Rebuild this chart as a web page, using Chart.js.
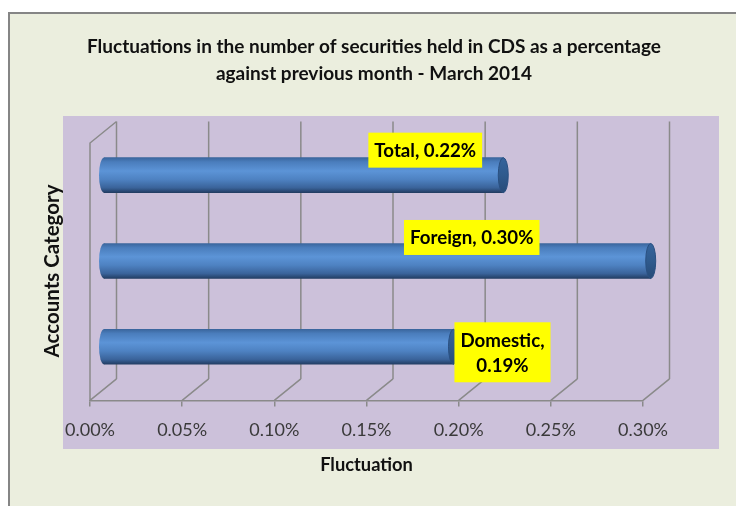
<!DOCTYPE html>
<html><head><meta charset="utf-8">
<script src="https://cdn.jsdelivr.net/npm/chart.js@4.4.1/dist/chart.umd.min.js"></script>
<style>html,body{margin:0;padding:0;background:#fff;}canvas{display:block;}</style>
</head><body>
<canvas id="c" width="736" height="506"></canvas>
<script>
// ---- data ----
const categories = ['Total', 'Foreign', 'Domestic'];
const fluctuation = [0.217, 0.297, 0.19];          // percent
const xTicks = [0, 0.05, 0.10, 0.15, 0.20, 0.25, 0.30];
const titleLines = ['Fluctuations in the number of securities held in CDS as a percentage',
                    'against previous month - March 2014'];
const xTitle = 'Fluctuation';
const yTitle = 'Accounts Category';

// ---- styling / layout ----
const FONT = 'Lato, "Open Sans", sans-serif';
const DEPTH = {x: 26.5, y: -21.5};
const BAR_H = 35;
const CAP_RX = 5;
const labelShift = [[-78, -25], [-179, -23.5], [49, 5.5]];
const labelWrap = [false, false, true];

function barGradient(ctx, yc, h) {
  if (!isFinite(yc)) return '#4F81BD';
  const g = ctx.createLinearGradient(0, yc - h / 2, 0, yc + h / 2);
  g.addColorStop(0, '#3A669D');
  g.addColorStop(0.12, '#4A7DBC');
  g.addColorStop(0.38, '#5C94D7');
  g.addColorStop(0.62, '#4E82C2');
  g.addColorStop(0.86, '#3A639A');
  g.addColorStop(1, '#223D63');
  return g;
}

const framePlugin = {
  id: 'frame',
  beforeDraw(chart) {
    const ctx = chart.ctx, W = chart.width, H = chart.height;
    const a = chart.chartArea;
    ctx.save();
    ctx.fillStyle = '#ffffff';
    ctx.fillRect(0, 0, W, H);
    ctx.fillStyle = '#EBEEDE';
    ctx.fillRect(9, 13, W - 9, H - 13);
    ctx.strokeStyle = '#858585';
    ctx.lineWidth = 2;
    ctx.beginPath(); ctx.moveTo(9, H); ctx.lineTo(9, 13); ctx.lineTo(W, 13); ctx.stroke();
    ctx.fillStyle = '#CCC1DA';
    ctx.fillRect(63, 116, 656, 333);
    ctx.restore();
  },
  beforeDatasetsDraw(chart) {
    const ctx = chart.ctx, a = chart.chartArea, xs = chart.scales.x;
    ctx.save();
    ctx.strokeStyle = '#8A8A8A';
    ctx.lineWidth = 1.5;
    ctx.beginPath();
    xTicks.forEach(v => {
      const fx = xs.getPixelForValue(v), bx = fx + DEPTH.x;
      ctx.moveTo(bx, a.bottom + DEPTH.y); ctx.lineTo(bx, a.top + DEPTH.y);
      ctx.moveTo(fx, a.bottom); ctx.lineTo(bx, a.bottom + DEPTH.y);
    });
    ctx.moveTo(a.left, a.bottom); ctx.lineTo(a.left, a.top);
    ctx.lineTo(a.left + DEPTH.x, a.top + DEPTH.y);
    ctx.stroke();
    // texts
    ctx.fillStyle = '#111111';
    ctx.textAlign = 'center';
    ctx.textBaseline = 'middle';
    ctx.font = 'bold 19px ' + FONT;
    ctx.fillText(titleLines[0], 374, 47);
    ctx.fillText(titleLines[1], 374, 74);
    ctx.save();
    ctx.translate(52.5, 271);
    ctx.rotate(-Math.PI / 2);
    ctx.font = 'bold 20.5px ' + FONT;
    ctx.fillText(yTitle, 0, 0);
    ctx.restore();
    ctx.restore();
    // shift the bars to mid depth
    ctx.save();
    ctx.translate(DEPTH.x / 2, DEPTH.y / 2);
  },
  afterDatasetsDraw(chart) {
    const ctx = chart.ctx;
    const meta = chart.getDatasetMeta(0);
    meta.data.forEach(el => {
      const p = el.getProps(['x', 'y', 'base', 'height'], true);
      const ry = p.height / 2;
      ctx.fillStyle = barGradient(ctx, p.y, p.height);
      ctx.beginPath(); ctx.ellipse(p.base, p.y, CAP_RX, ry, 0, 0, Math.PI * 2); ctx.fill();
      const g = ctx.createLinearGradient(0, p.y - ry, 0, p.y + ry);
      g.addColorStop(0, '#35649C'); g.addColorStop(0.5, '#2F5A8D'); g.addColorStop(1, '#274B78');
      ctx.fillStyle = g;
      ctx.strokeStyle = '#2A5081';
      ctx.lineWidth = 1;
      ctx.beginPath(); ctx.ellipse(p.x, p.y, CAP_RX, ry, 0, 0, Math.PI * 2); ctx.fill(); ctx.stroke();
    });
    ctx.restore();
    // data labels
    ctx.save();
    ctx.font = 'bold 18.7px ' + FONT;
    ctx.textAlign = 'center';
    ctx.textBaseline = 'middle';
    meta.data.forEach((el, i) => {
      const p = el.getProps(['x', 'y'], true);
      const val = fluctuation[i].toFixed(2) + '%';
      const lines = labelWrap[i] ? [categories[i] + ',', val] : [categories[i] + ', ' + val];
      const cx = p.x + DEPTH.x / 2 + labelShift[i][0];
      const cy = p.y + DEPTH.y / 2 + labelShift[i][1];
      const tw = Math.max(...lines.map(l => ctx.measureText(l).width));
      const lh = 25;
      const bw = tw + 12, bh = lines.length * lh + 10;
      ctx.fillStyle = '#FFFF00';
      ctx.fillRect(cx - bw / 2, cy - bh / 2, bw, bh);
      ctx.fillStyle = '#000000';
      lines.forEach((l, k) => ctx.fillText(l, cx, cy - (lines.length - 1) * lh / 2 + k * lh + 1));
    });
    ctx.restore();
  }
};

new Chart(document.getElementById('c'), {
  type: 'bar',
  data: {
    labels: categories,
    datasets: [{
      data: fluctuation,
      barThickness: BAR_H,
      borderWidth: 0,
      backgroundColor: (c) => {
        const ch = c.chart, ys = ch.scales.y;
        if (!ys || c.type !== 'data') return '#4F81BD';
        return barGradient(ch.ctx, ys.getPixelForValue(c.dataIndex), BAR_H);
      }
    }]
  },
  options: {
    indexAxis: 'y',
    responsive: false,
    devicePixelRatio: 1,
    animation: false,
    layout: {padding: {left: 90, right: 93, top: 143, bottom: 26}},
    plugins: {legend: {display: false}, title: {display: false}, tooltip: {enabled: false}},
    scales: {
      y: {display: false, offset: true},
      x: {
        min: 0, max: 0.3,
        afterBuildTicks: (s) => { s.ticks = xTicks.map(v => ({value: v})); },
        border: {display: true, color: '#8A8A8A', width: 1.5},
        grid: {display: true, drawOnChartArea: false, drawTicks: true, tickLength: 6, color: '#8A8A8A', lineWidth: 1.5},
        ticks: {
          autoSkip: false, maxRotation: 0, padding: 13,
          color: '#3A3A3A', font: {family: FONT, size: 18},
          callback: (v) => Number(v).toFixed(2) + '%'
        },
        title: {display: true, text: xTitle, color: '#111111',
                font: {family: FONT, size: 18.3, weight: 'bold'}, padding: {top: 0, bottom: 4}}
      }
    }
  },
  plugins: [framePlugin]
});
</script>
</body></html>
